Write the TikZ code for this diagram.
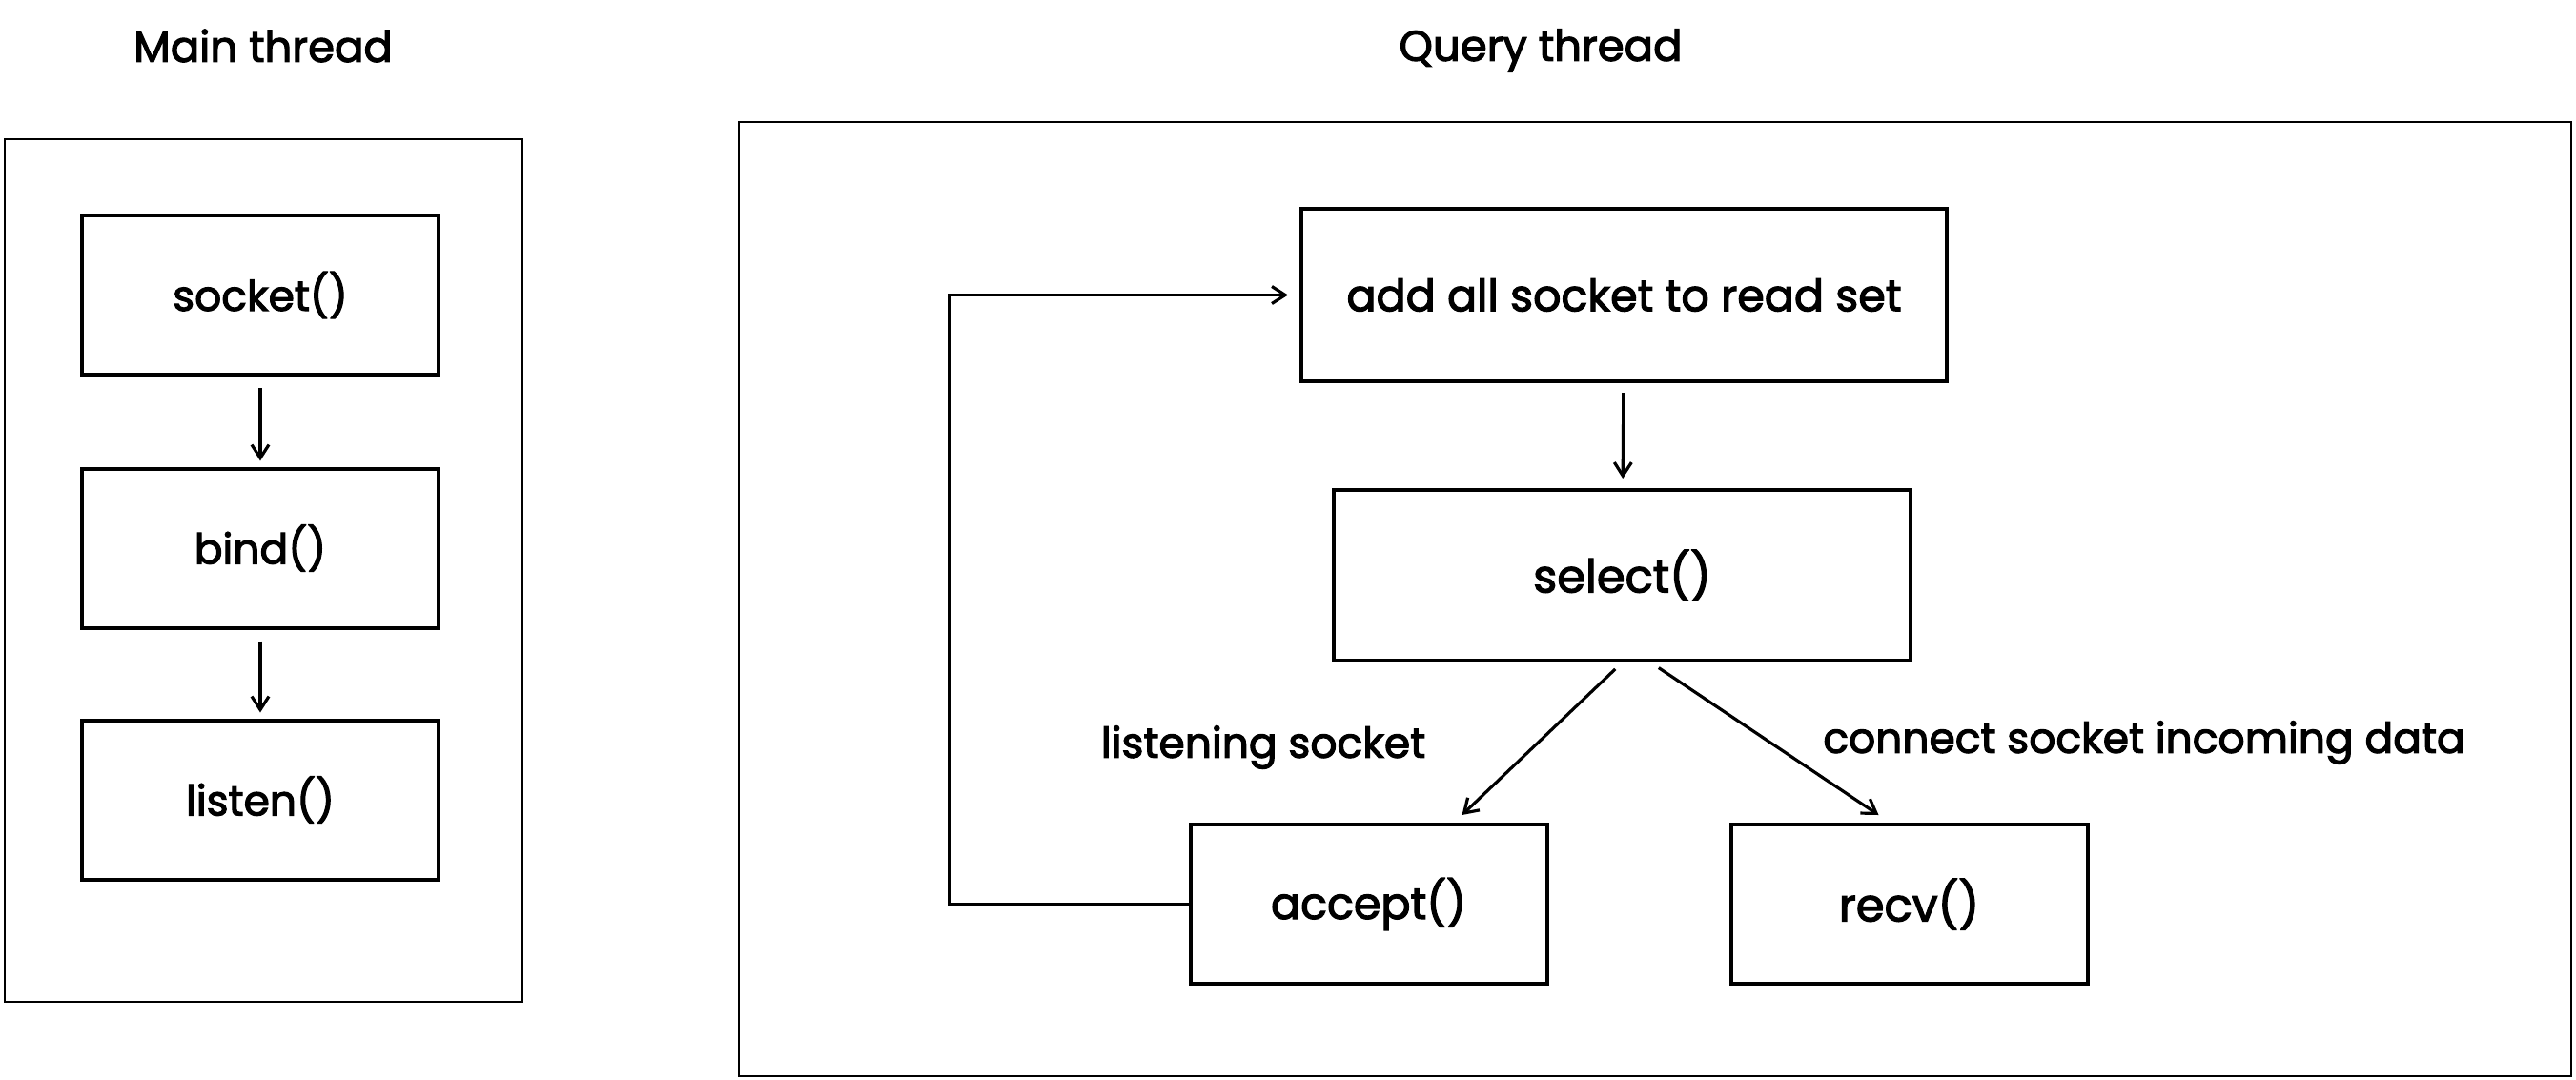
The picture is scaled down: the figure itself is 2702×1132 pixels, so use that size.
\documentclass[tikz,border=0pt]{standalone}
\usepackage{fontspec}
\setmainfont{Poppins}[FakeBold=2.5]
\usetikzlibrary{arrows.meta}

\tikzset{fbox/.style = {shape = rectangle,
                        draw,
                        line width = 2pt,
                        minimum width = 187pt,
                        minimum height = 83.5pt,
                        font = \fontsize{22}{26}\selectfont},
         frame/.style = {shape = rectangle,
                         draw,
                         line width = 0.7pt},
         lbl/.style = {font = \fontsize{22}{26}\selectfont},
         title/.style = {font = \fontsize{22.5}{27}\selectfont},
         arr/.style = {-{Straight Barb[length=7pt,width=9pt]},
                       line width = 1.6pt}}

\begin{document}
\begin{tikzpicture}[x=0.5pt,y=-0.5pt]
	\useasboundingbox[fill=white] (0,0) rectangle (2702,1132);
	% containers
	\node[frame, minimum width=271.5pt, minimum height=452.5pt] (mainbox) at (276.5,598.5) {};
	\node[frame, minimum width=961pt, minimum height=500.5pt] (querybox) at (1736,628.5) {};
	\node[title] (maintitle) at (276,48) {Main thread};
	\node[title] (querytitle) at (1616,53) {Query thread};
	% main thread
	\node[fbox] (socket) at (273,309.5) {socket()};
	\node[fbox] (bind) at (273,575) {bind()};
	\node[fbox] (listen) at (273,839) {listen()};
	\draw[arr, shorten <=6pt, shorten >=3pt] (socket) -- (bind);
	\draw[arr, shorten <=6pt, shorten >=3pt] (bind) -- (listen);
	% query thread
	\node[fbox, minimum width=338.5pt, minimum height=90.5pt, font=\fontsize{23}{27}\selectfont] (addall) at (1703.5,309.5) {add all socket to read set};
	\node[fbox, minimum width=302.5pt, minimum height=89.5pt, font=\fontsize{24}{28}\selectfont] (select) at (1701.5,603.5) {select()};
	\node[fbox, font=\fontsize{23}{27}\selectfont] (accept) at (1435.5,948.5) {accept()};
	\node[fbox, font=\fontsize{24}{28}\selectfont] (recv) at (2002.5,948.5) {recv()};
	\draw[arr, shorten <=5pt, shorten >=5pt] (addall) -- (select);
	\draw[arr, shorten <=5pt] ([xshift=0pt]select.south) -- ([xshift=49pt,yshift=4pt]accept.north);
	\draw[arr, shorten <=5pt] ([xshift=15pt]select.south) -- ([xshift=-16pt,yshift=4pt]recv.north);
	\draw[arr, shorten >=6pt] (accept.west) -- ++(-251,0) |- (addall.west);
	\node[lbl] (listenlbl) at (1325,784) {listening socket};
	\node[lbl] (datalbl) at (2249,779) {connect socket incoming data};
\end{tikzpicture}
\end{document}
